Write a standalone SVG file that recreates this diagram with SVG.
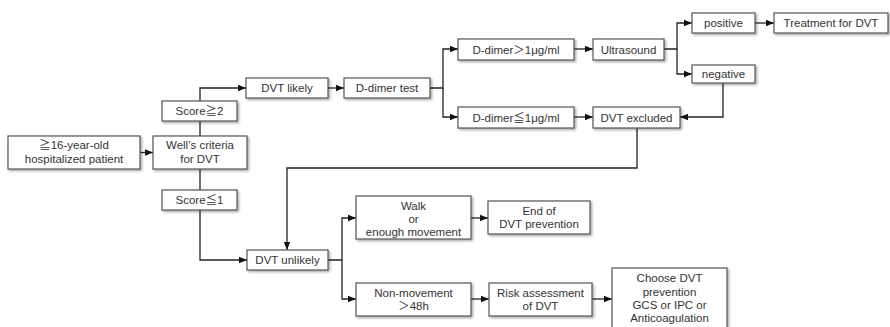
<svg xmlns="http://www.w3.org/2000/svg" width="890" height="327" viewBox="0 0 890 327">
<style>
.b{fill:#fff;stroke:#555;stroke-width:1.2;filter:url(#sh)}
.t{font-family:"Liberation Sans","Noto Sans CJK JP",sans-serif;font-size:11.5px;fill:#333;text-anchor:middle}
.c{fill:none;stroke:#222;stroke-width:1.3}
.a{fill:none;stroke:#222;stroke-width:1.3;marker-end:url(#ar)}
</style>
<defs>
<filter id="sh" x="-10%" y="-20%" width="130%" height="160%">
<feDropShadow dx="1.5" dy="1.5" stdDeviation="1" flood-color="#000" flood-opacity="0.35"/>
</filter>
<marker id="ar" viewBox="0 0 10 10" refX="10" refY="5" markerWidth="8" markerHeight="8" markerUnits="userSpaceOnUse" orient="auto">
<path d="M0,1 L10,5 L0,9 z" fill="#111"/>
</marker>
</defs>
<rect width="890" height="327" fill="#fff"/>
<g id="connectors">
<path class="a" d="M140,152.5 H153"/>
<path class="c" d="M200,136 V121"/>
<path class="a" d="M200,101 V88 H246"/>
<path class="c" d="M200,169 V190"/>
<path class="a" d="M200,210 V260 H247"/>
<path class="a" d="M328,88 H344"/>
<path class="a" d="M430,88 H443 V49 H458"/>
<path class="a" d="M443,88 V117 H458"/>
<path class="a" d="M574,49 H593"/>
<path class="a" d="M574,117 H593"/>
<path class="a" d="M664,49 H677 V23 H692"/>
<path class="a" d="M677,49 V74 H692"/>
<path class="a" d="M755,23 H774"/>
<path class="a" d="M723,83 V117 H680"/>
<path class="a" d="M637,128 V168 H287 V250"/>
<path class="a" d="M328,260 H342 V218 H356"/>
<path class="a" d="M342,260 V299 H356"/>
<path class="a" d="M471,218 H488"/>
<path class="a" d="M471,299 H489"/>
<path class="a" d="M592,299 H612"/>
</g>
<g id="patient"><rect class="b" x="8" y="136" width="132" height="33"/><text class="t" x="74" y="149">≧16-year-old</text><text class="t" x="74" y="162.5">hospitalized patient</text></g>
<g id="wells"><rect class="b" x="153" y="136" width="94" height="33"/><text class="t" x="200" y="149">Well’s criteria</text><text class="t" x="200" y="162.5">for DVT</text></g>
<g id="score2"><rect class="b" x="162" y="101" width="75" height="20"/><text class="t" x="199.5" y="115">Score≧2</text></g>
<g id="score1"><rect class="b" x="162" y="190" width="75" height="20"/><text class="t" x="199.5" y="204">Score≦1</text></g>
<g id="dvt-likely"><rect class="b" x="246" y="78" width="82" height="20"/><text class="t" x="287" y="92">DVT likely</text></g>
<g id="ddimer-test"><rect class="b" x="344" y="78" width="86" height="20"/><text class="t" x="387" y="92">D-dimer test</text></g>
<g id="ddimer-high"><rect class="b" x="458" y="39" width="116" height="21"/><text class="t" x="516" y="53.5">D-dimer＞1μg/ml</text></g>
<g id="ddimer-low"><rect class="b" x="458" y="107" width="116" height="21"/><text class="t" x="516" y="121.5">D-dimer≦1μg/ml</text></g>
<g id="ultrasound"><rect class="b" x="593" y="39" width="71" height="21"/><text class="t" x="628.5" y="53.5">Ultrasound</text></g>
<g id="positive"><rect class="b" x="692" y="13" width="63" height="20"/><text class="t" x="723.5" y="27">positive</text></g>
<g id="negative"><rect class="b" x="692" y="65" width="63" height="18"/><text class="t" x="723.5" y="78">negative</text></g>
<g id="treatment"><rect class="b" x="774" y="13" width="114" height="20"/><text class="t" x="831" y="27">Treatment for DVT</text></g>
<g id="dvt-excluded"><rect class="b" x="593" y="107" width="87" height="21"/><text class="t" x="636.5" y="121.5">DVT excluded</text></g>
<g id="dvt-unlikely"><rect class="b" x="247" y="250" width="81" height="20"/><text class="t" x="287.5" y="264">DVT unlikely</text></g>
<g id="walk"><rect class="b" x="356" y="196" width="115" height="43"/><text class="t" x="413.5" y="210">Walk</text><text class="t" x="413.5" y="222.5">or</text><text class="t" x="413.5" y="235.5">enough movement</text></g>
<g id="end"><rect class="b" x="488" y="201" width="102" height="33"/><text class="t" x="539" y="215">End of</text><text class="t" x="539" y="228">DVT prevention</text></g>
<g id="nonmovement"><rect class="b" x="356" y="283" width="115" height="33"/><text class="t" x="413.5" y="297">Non-movement</text><text class="t" x="413.5" y="310">＞48h</text></g>
<g id="risk"><rect class="b" x="489" y="283" width="103" height="33"/><text class="t" x="540.5" y="297">Risk assessment</text><text class="t" x="540.5" y="310">of DVT</text></g>
<g id="choose"><rect class="b" x="612" y="268" width="115" height="70"/><text class="t" x="669.5" y="282">Choose  DVT</text><text class="t" x="669.5" y="295.5">prevention</text><text class="t" x="669.5" y="308.5">GCS or IPC or</text><text class="t" x="669.5" y="321.5">Anticoagulation</text></g>
</svg>
